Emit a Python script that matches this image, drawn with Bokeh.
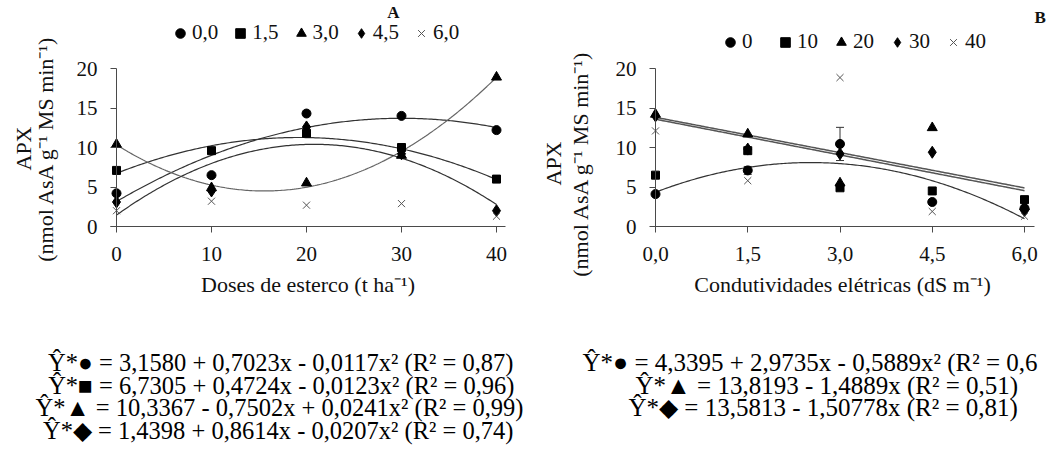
import numpy as np
from bokeh.plotting import figure
from bokeh.models import (Range1d, FixedTicker, Label, Legend, LegendItem, Whisker,
                          ColumnDataSource, TeeHead)
from bokeh.layouts import row
from bokeh.embed import file_html
from bokeh.resources import INLINE

# ---------------- data: panel A (x = manure doses) ----------------
doses = [0, 10, 20, 30, 40]
a_series_names = ["0,0", "1,5", "3,0", "4,5", "6,0"]
a_00 = [4.2, 6.5, 14.3, 14.0, 12.2]
a_15 = [7.1, 9.6, 11.8, 10.0, 6.0]
a_30 = [10.4, 4.9, 5.5, 9.0, 18.9]
a_45 = [3.1, 4.5, 12.6, 9.2, 2.0]
a_60 = [2.0, 3.2, 2.7, 2.9, 1.3]
coef_a_00 = [3.1580, 0.7023, -0.0117]
coef_a_15 = [6.7305, 0.4724, -0.0123]
coef_a_30 = [10.3367, -0.7502, 0.0241]
coef_a_45 = [1.4398, 0.8614, -0.0207]
eq_a = [
    "Ŷ*● = 3,1580 + 0,7023x - 0,0117x² (R² = 0,87)",
    "Ŷ*■ = 6,7305 + 0,4724x - 0,0123x² (R² = 0,96)",
    "Ŷ*▲ = 10,3367 - 0,7502x + 0,0241x² (R² = 0,99)",
    "Ŷ*◆ = 1,4398 + 0,8614x - 0,0207x² (R² = 0,74)",
]

# ---------------- data: panel B (x = electrical conductivity) ----------------
ce = [0.0, 1.5, 3.0, 4.5, 6.0]
ce_ticklabels = ["0,0", "1,5", "3,0", "4,5", "6,0"]
b_series_names = ["0", "10", "20", "30", "40"]
b_0 = [4.1, 7.1, 10.45, 3.1, 2.3]
b_0_err = [0.0, 0.5, 2.1, 0.0, 0.0]
b_10 = [6.5, 9.6, 4.9, 4.5, 3.4]
b_20 = [14.2, 11.7, 5.5, 12.5, 2.5]
b_30 = [14.0, 9.8, 9.2, 9.4, 2.0]
b_40 = [12.1, 5.8, 18.85, 1.9, 1.3]
coef_b_0 = [4.3395, 2.9735, -0.5889]
coef_b_20 = [13.8193, -1.4889]
coef_b_30 = [13.5813, -1.50778]
eq_b = [
    "Ŷ*● = 4,3395 + 2,9735x - 0,5889x² (R² = 0,6",
    "Ŷ*▲ = 13,8193 - 1,4889x (R² = 0,51)",
    "Ŷ*◆ = 13,5813 - 1,50778x (R² = 0,81)",
]

y_ticks = [0, 5, 10, 15, 20]

FONT = "Liberation Serif"
AX = "#4a4a4a"
TXT = "#111111"

# ---------------- layout (window pixels; page content starts at 0,0) ----------------
H = 466
Y0_WIN, PX_Y = 226.0, 7.9          # window y of value 0, px per unit
A_LEFT, A_W, A_X0, A_PX = 0, 527, 116.0, 9.5
B_LEFT, B_W, B_X0, B_PX = 527, 527, 655.0, 61.5


class Mapper:
    def __init__(self, left, width, x0, px):
        self.left, self.width, self.x0, self.px = left, width, x0, px

    def xr(self):
        return ((self.left - self.x0) / self.px, (self.left + self.width - self.x0) / self.px)

    @staticmethod
    def yr():
        return ((Y0_WIN - H) / PX_Y, Y0_WIN / PX_Y)

    def fx(self, wx):
        return (wx - self.x0) / self.px

    @staticmethod
    def fy(wy):
        return (Y0_WIN - wy) / PX_Y


def make_fig(m, xticks, xbounds, xlabel):
    p = figure(width=m.width, height=H, x_range=Range1d(*m.xr()), y_range=Range1d(*m.yr()),
               output_backend="svg", toolbar_location=None, title=None,
               min_border_left=0, min_border_right=0, min_border_top=0, min_border_bottom=0)
    p.outline_line_color = None
    p.grid.visible = False
    p.background_fill_color = "white"
    p.border_fill_color = "white"
    p.yaxis.fixed_location = 0
    p.xaxis.fixed_location = 0
    p.yaxis.bounds = (0, 20)
    p.xaxis.bounds = xbounds
    p.yaxis.ticker = FixedTicker(ticks=y_ticks)
    p.xaxis.ticker = FixedTicker(ticks=xticks)
    for ax in (p.xaxis, p.yaxis):
        ax.axis_line_color = AX
        ax.major_tick_line_color = AX
        ax.minor_tick_line_color = None
        ax.major_tick_in = 0
        ax.major_tick_out = 6
        ax.major_label_text_font = FONT
        ax.major_label_text_font_size = "21px"
        ax.major_label_text_color = TXT
    p.yaxis.major_label_standoff = 13
    p.xaxis.major_label_standoff = 14
    p.xaxis.axis_label = xlabel
    p.xaxis.axis_label_text_font = FONT
    p.xaxis.axis_label_text_font_size = "22px"
    p.xaxis.axis_label_text_font_style = "normal"
    p.xaxis.axis_label_text_color = TXT
    p.xaxis.axis_label_standoff = 8
    return p


def add_markers(p, m, x, series, names, legend_left_win, legend_bottom_win, spacing):
    styles = [
        dict(marker="circle", size=9, color="black"),
        dict(marker="square", size=8, color="black"),
        dict(marker="triangle", size=10, color="black"),
        dict(marker="diamond", size=12, color="black"),
        dict(marker="x", size=10, line_color="#555555", line_width=1),
    ]
    items = []
    for ys, nm, st in zip(series, names, styles):
        r = p.scatter(x, ys, **st)
        items.append(LegendItem(label=nm, renderers=[r]))
    loc = (legend_left_win - m.left, H - legend_bottom_win)
    lg = Legend(items=items, orientation="horizontal", location=loc,
                glyph_width=24, glyph_height=24, label_standoff=0, spacing=spacing,
                padding=0, margin=0, border_line_color=None, background_fill_alpha=0,
                label_text_font=FONT, label_text_font_size="21px", label_text_color=TXT)
    p.add_layout(lg)


def text_label(p, m, wx, wy, text, size, align="center", angle=0.0, bold=False, color=TXT):
    p.add_layout(Label(x=m.fx(wx), y=m.fy(wy), text=text, angle=angle,
                       text_align=align, text_baseline="middle", text_font=FONT,
                       text_font_size=size, text_color=color,
                       text_font_style="bold" if bold else "normal"))


def poly(coef, xs):
    xs = np.asarray(xs, dtype=float)
    return sum(c * xs ** i for i, c in enumerate(coef))


# ================= panel A =================
mA = Mapper(A_LEFT, A_W, A_X0, A_PX)
pA = make_fig(mA, doses, (mA.fx(110), mA.fx(505)), "Doses de esterco (t ha⁻¹)")
xa = np.linspace(doses[0], doses[-1], 200)
for coef, col in [(coef_a_00, "#333333"), (coef_a_15, "#333333"),
                  (coef_a_30, "#666666"), (coef_a_45, "#333333")]:
    pA.line(xa, poly(coef, xa), line_color=col, line_width=1.2)
add_markers(pA, mA, doses, [a_00, a_15, a_30, a_45, a_60], a_series_names, 168, 45, 10)

text_label(pA, mA, 23, 148, "APX", "22px", angle=np.pi / 2)
text_label(pA, mA, 45, 148, "(nmol AsA g⁻¹ MS min⁻¹)", "22px", angle=np.pi / 2)
text_label(pA, mA, 393, 12, "A", "17px", bold=True)
for t, wx, wy in zip(eq_a, [513, 514, 523, 513], [362, 385, 407, 430]):
    text_label(pA, mA, wx, wy, t, "24.5px", align="right", color="black")

# ================= panel B =================
mB = Mapper(B_LEFT, B_W, B_X0, B_PX)
pB = make_fig(mB, ce, (mB.fx(650), mB.fx(1034)), "Condutividades elétricas (dS m⁻¹)")
pB.xaxis.major_label_overrides = {v: s for v, s in zip(ce, ce_ticklabels)}
xb = np.linspace(ce[0], ce[-1], 200)
pB.line(xb, poly(coef_b_0, xb), line_color="#333333", line_width=1.2)
pB.line(xb, poly(coef_b_20, xb), line_color="#555555", line_width=1.5)
pB.line(xb, poly(coef_b_30, xb), line_color="#555555", line_width=1.5)

err_idx = [i for i, e in enumerate(b_0_err) if e > 0]
err_src = ColumnDataSource(dict(
    x=[ce[i] for i in err_idx],
    upper=[b_0[i] + b_0_err[i] for i in err_idx],
    lower=[b_0[i] - b_0_err[i] for i in err_idx],
))
pB.add_layout(Whisker(source=err_src, base="x", upper="upper", lower="lower",
                      line_color="#333333", line_width=1,
                      upper_head=TeeHead(size=8, line_color="#333333", line_width=1),
                      lower_head=TeeHead(size=8, line_color="#333333", line_width=1)))
add_markers(pB, mB, ce, [b_0, b_10, b_20, b_30, b_40], b_series_names, 718, 54, 11)

text_label(pB, mB, 553, 163, "APX", "22px", angle=np.pi / 2)
text_label(pB, mB, 580, 163, "(nmol AsA g⁻¹ MS min⁻¹)", "22px", angle=np.pi / 2)
text_label(pB, mB, 1034, 17, "B", "17px", align="left", bold=True)
for t, wx, wy in zip(eq_b, [582, 635, 628], [362, 385, 407]):
    text_label(pB, mB, wx, wy, t, "25px", align="left", color="black")

layout = row(pA, pB)
open("out.html", "w").write(file_html(layout, INLINE))
